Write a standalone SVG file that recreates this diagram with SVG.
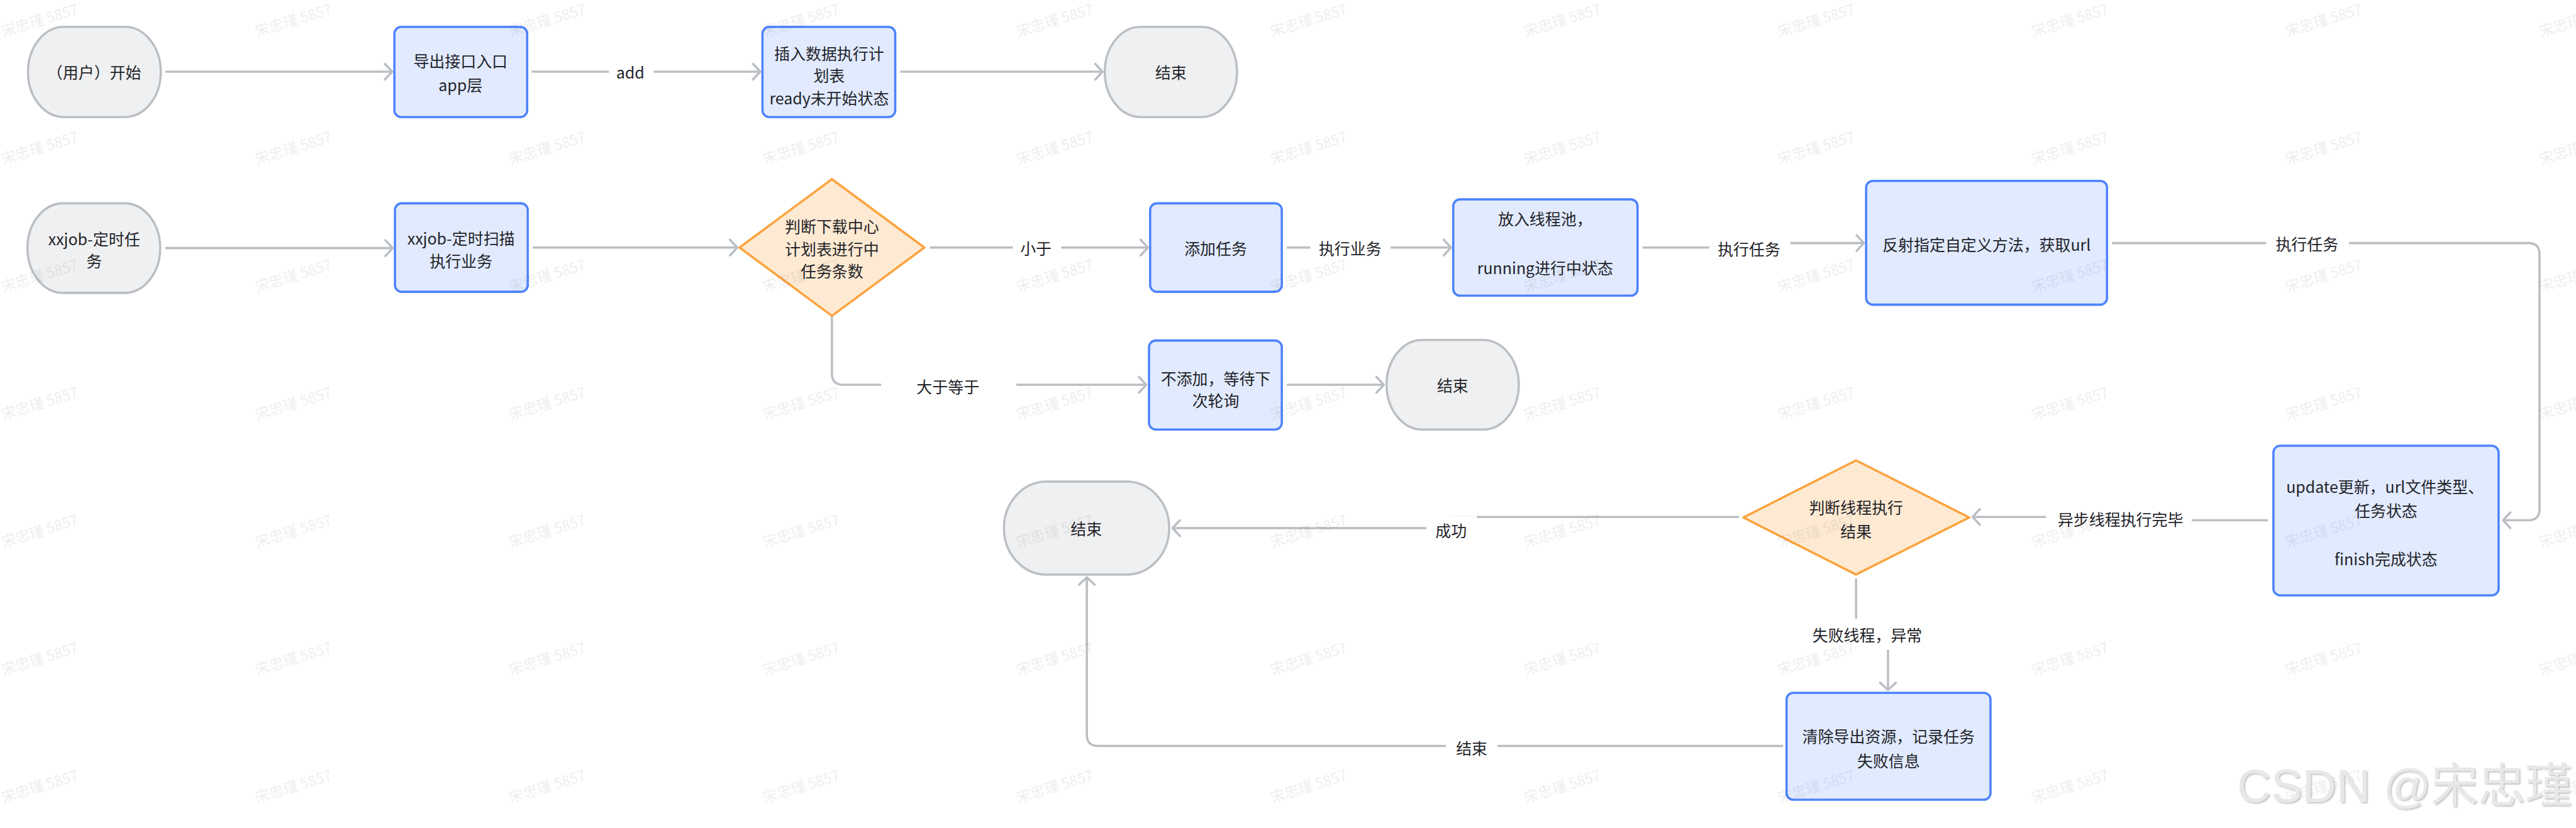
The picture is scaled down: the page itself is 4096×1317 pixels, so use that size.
<svg xmlns="http://www.w3.org/2000/svg" width="4096" height="1317" viewBox="0 0 4096 1317">
<style>
.term{fill:#eff0f1;stroke:#bbbfc4;stroke-width:4}
.box{fill:#e1eaff;stroke:#4e83fd;stroke-width:4}
.dia{fill:#feead2;stroke:#fca33e;stroke-width:4;stroke-linejoin:round}
.t{font-family:"Noto Sans CJK SC","Noto Sans",sans-serif;font-size:28px;fill:#1f2329;text-anchor:middle;dominant-baseline:central}
.edge{fill:none;stroke:#bbbfc4;stroke-width:4;marker-end:url(#arr)}
.bg{fill:#ffffff}
</style>
<defs>
<marker id="arr" markerUnits="userSpaceOnUse" viewBox="-18 -18 22 36" refX="0" refY="0" markerWidth="22" markerHeight="36" orient="auto" overflow="visible">
<path d="M-13,-14 L0,0 L-13,14" fill="none" stroke="#bbbfc4" stroke-width="4" stroke-linecap="round" stroke-linejoin="round"/>
</marker>
<pattern id="wm" patternUnits="userSpaceOnUse" width="453" height="228">
<text x="6" y="66" transform="rotate(-17 6 66)" font-family="Noto Sans CJK SC, sans-serif" font-size="26" fill="#000" fill-opacity="0.07">宋忠瑾 5857</text>
</pattern>
<filter id="sh" x="-5%" y="-20%" width="110%" height="140%">
<feDropShadow dx="2" dy="2" stdDeviation="1" flood-color="#9a9a9a" flood-opacity="0.6"/>
</filter>
</defs>
<rect width="4096" height="1317" fill="#ffffff"/>
<g transform="scale(0.8908)">

<g id="connectors">
<path class="edge" d="M295,128 H700"/>
<path class="edge" d="M949,128 H1357"/>
<path class="edge" d="M1607,128 H1968"/>
<path class="edge" d="M295,443 H701"/>
<path class="edge" d="M951,442 H1316"/>
<path class="edge" d="M1660,442 H2049"/>
<path class="edge" d="M2297,442 H2590"/>
<path class="edge" d="M2932,442 H3122 V434 H3327"/>
<path class="edge" d="M3770,434 H4513 Q4533,434 4533,454 V909 Q4533,929 4513,929 H4468"/>
<path class="edge" d="M4048,929 H3785 V923 H3521"/>
<path class="edge" d="M3104,923 H2590 V943 H2093"/>
<path class="edge" d="M3313,1033 V1133 H3370 V1232"/>
<path class="edge" d="M3183,1332 H1960 Q1940,1332 1940,1312 V1031"/>
<path class="edge" d="M1485,565 V667 Q1485,687 1505,687 H2046"/>
<path class="edge" d="M2297,687 H2470"/>
<g id="edge-labels">
<rect class="bg" x="1087" y="106" width="80" height="46"/><text class="t" x="1125" y="128">add</text>
<rect class="bg" x="1808" y="419" width="86" height="46"/><text class="t" x="1849" y="442">小于</text>
<rect class="bg" x="2339" y="419" width="143" height="46"/><text class="t" x="2410" y="442">执行业务</text>
<rect class="bg" x="3051" y="419" width="145" height="48"/><text class="t" x="3122" y="443">执行任务</text>
<rect class="bg" x="4045" y="411" width="148" height="46"/><text class="t" x="4118" y="434">执行任务</text>
<rect class="bg" x="3652" y="902" width="260" height="48"/><text class="t" x="3785" y="926">异步线程执行完毕</text>
<rect class="bg" x="2546" y="921" width="90" height="48"/><text class="t" x="2590" y="946">成功</text>
<rect class="bg" x="3225" y="1105" width="216" height="55"/><text class="t" x="3333" y="1133">失败线程，异常</text>
<rect class="bg" x="2581" y="1311" width="92" height="48"/><text class="t" x="2627" y="1335">结束</text>
<rect class="bg" x="1573" y="665" width="241" height="48"/><text class="t" x="1692" y="689">大于等于</text>
</g>
</g>

<g id="n-start-user">
<rect class="term" x="50" y="48" width="237" height="161" rx="64" ry="80.5"/>
<text class="t" x="168" y="128">（用户）开始</text>
</g>
<g id="n-export-entry">
<rect class="box" x="704" y="48" width="237" height="161" rx="12"/>
<text class="t" x="822" y="108">导出接口入口</text>
<text class="t" x="822" y="150">app层</text>
</g>
<g id="n-insert-plan">
<rect class="box" x="1361" y="48" width="237" height="161" rx="12"/>
<text class="t" x="1480" y="94">插入数据执行计</text>
<text class="t" x="1480" y="134">划表</text>
<text class="t" x="1480" y="174">ready未开始状态</text>
</g>
<g id="n-end-1">
<rect class="term" x="1972" y="48" width="236" height="161" rx="64" ry="80.5"/>
<text class="t" x="2090" y="128">结束</text>
</g>

<g id="n-xxjob-task">
<rect class="term" x="49" y="363" width="237" height="160" rx="64" ry="80"/>
<text class="t" x="168" y="425">xxjob-定时任</text>
<text class="t" x="168" y="465">务</text>
</g>
<g id="n-xxjob-scan">
<rect class="box" x="705" y="363" width="237" height="158" rx="12"/>
<text class="t" x="823" y="424">xxjob-定时扫描</text>
<text class="t" x="823" y="465">执行业务</text>
</g>
<g id="n-judge-count">
<polygon class="dia" points="1485,320 1650,442 1485,564 1320,442"/>
<text class="t" x="1485" y="403">判断下载中心</text>
<text class="t" x="1485" y="443">计划表进行中</text>
<text class="t" x="1485" y="483">任务条数</text>
</g>
<g id="n-add-task">
<rect class="box" x="2053" y="363" width="235" height="158" rx="12"/>
<text class="t" x="2170" y="442">添加任务</text>
</g>
<g id="n-thread-pool">
<rect class="box" x="2594" y="356" width="329" height="172" rx="12"/>
<text class="t" x="2758" y="390">放入线程池，</text>
<text class="t" x="2758" y="477">running进行中状态</text>
</g>
<g id="n-reflect">
<rect class="box" x="3331" y="323" width="430" height="221" rx="12"/>
<text class="t" x="3546" y="436">反射指定自定义方法，获取url</text>
</g>
<g id="n-not-add">
<rect class="box" x="2051" y="608" width="237" height="159" rx="12"/>
<text class="t" x="2170" y="675">不添加，等待下</text>
<text class="t" x="2170" y="714">次轮询</text>
</g>
<g id="n-end-2">
<rect class="term" x="2475" y="607" width="236" height="160" rx="64" ry="80"/>
<text class="t" x="2593" y="687">结束</text>
</g>
<g id="n-update">
<rect class="box" x="4058" y="796" width="402" height="267" rx="12"/>
<text class="t" x="4257" y="868">update更新，url文件类型、</text>
<text class="t" x="4259" y="910">任务状态</text>
<text class="t" x="4259" y="997">finish完成状态</text>
</g>
<g id="n-judge-result">
<polygon class="dia" points="3313,822 3515,924 3313,1026 3112,924"/>
<text class="t" x="3313" y="905">判断线程执行</text>
<text class="t" x="3313" y="948">结果</text>
</g>
<g id="n-end-3">
<rect class="term" x="1792" y="860" width="295" height="166" rx="76" ry="83"/>
<text class="t" x="1939" y="943">结束</text>
</g>
<g id="n-cleanup">
<rect class="box" x="3189" y="1237" width="364" height="191" rx="12"/>
<text class="t" x="3371" y="1313">清除导出资源，记录任务</text>
<text class="t" x="3371" y="1357">失败信息</text>
</g>

<rect id="watermark-tiles" x="0" y="0" width="4598" height="1478" fill="url(#wm)"/>
<text id="csdn-mark" x="3993" y="1432" font-family="Liberation Sans, Noto Sans CJK SC, sans-serif" font-size="84" fill="#e8e8e8" filter="url(#sh)">CSDN @宋忠瑾</text>
</g>
</svg>
